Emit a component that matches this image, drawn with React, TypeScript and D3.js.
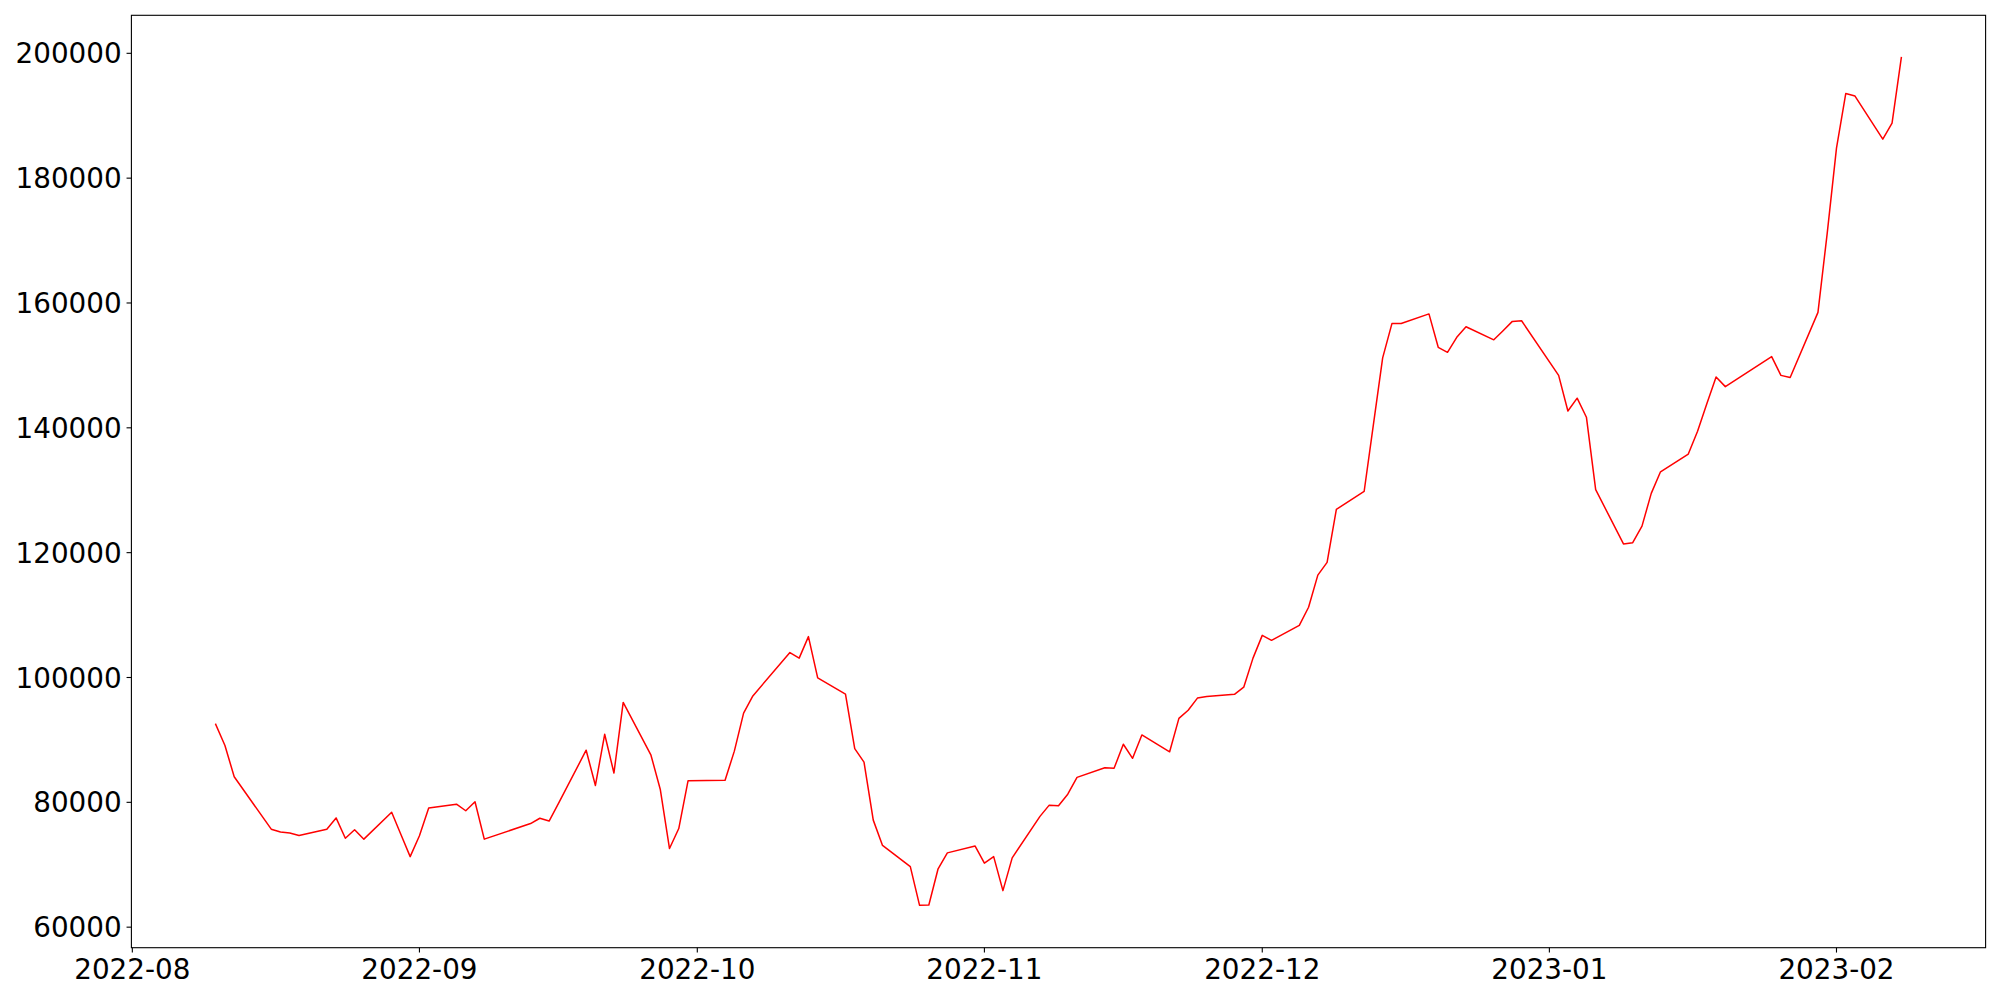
import React from "react";
import * as d3 from "d3";

const dates: string[] = [
  "2022-08-10","2022-08-11","2022-08-12","2022-08-16","2022-08-17","2022-08-18","2022-08-19",
  "2022-08-22","2022-08-23","2022-08-24","2022-08-25","2022-08-26","2022-08-29","2022-08-30","2022-08-31",
  "2022-09-01","2022-09-02","2022-09-05","2022-09-06","2022-09-07","2022-09-08","2022-09-13","2022-09-14",
  "2022-09-15","2022-09-16","2022-09-19","2022-09-20","2022-09-21","2022-09-22","2022-09-23","2022-09-26",
  "2022-09-27","2022-09-28","2022-09-29","2022-09-30","2022-10-04","2022-10-05","2022-10-06","2022-10-07",
  "2022-10-11","2022-10-12","2022-10-13","2022-10-14","2022-10-17","2022-10-18","2022-10-19","2022-10-20",
  "2022-10-21","2022-10-24","2022-10-25","2022-10-26","2022-10-27","2022-10-28","2022-10-31",
  "2022-11-01","2022-11-02","2022-11-03","2022-11-04","2022-11-07","2022-11-08","2022-11-09","2022-11-10",
  "2022-11-11","2022-11-14","2022-11-15","2022-11-16","2022-11-17","2022-11-18","2022-11-21","2022-11-22",
  "2022-11-23","2022-11-24","2022-11-25","2022-11-28","2022-11-29","2022-11-30",
  "2022-12-01","2022-12-02","2022-12-05","2022-12-06","2022-12-07","2022-12-08","2022-12-09","2022-12-12",
  "2022-12-13","2022-12-14","2022-12-15","2022-12-16","2022-12-19","2022-12-20","2022-12-21","2022-12-22",
  "2022-12-23","2022-12-26","2022-12-27","2022-12-28","2022-12-29",
  "2023-01-02","2023-01-03","2023-01-04","2023-01-05","2023-01-06","2023-01-09","2023-01-10","2023-01-11",
  "2023-01-12","2023-01-13","2023-01-16","2023-01-17","2023-01-18","2023-01-19","2023-01-20","2023-01-25",
  "2023-01-26","2023-01-27","2023-01-30","2023-01-31",
  "2023-02-01","2023-02-02","2023-02-03","2023-02-06","2023-02-07","2023-02-08",
];

const values: number[] = [
  92500, 89100, 84100, 75700, 75250, 75100, 74700,
  75700, 77500, 74250, 75600, 74100, 78400, 74850, 71300,
  74650, 79100, 79700, 78650, 80100, 74100, 76600, 77450,
  77000, 79800, 88350, 82700, 90900, 84700, 96000, 87550,
  82100, 72600, 75800, 83450, 83550, 88200, 94300, 97050,
  104000, 103100, 106550, 99950, 97350, 88600, 86450, 77150,
  73100, 69700, 63500, 63550, 69350, 71900, 73000,
  70250, 71300, 65850, 71100, 77750, 79550, 79450, 81300,
  84000, 85550, 85450, 89300, 87050, 90800, 88100, 93450,
  94750, 96700, 96950, 97300, 98450, 103100,
  106750, 105950, 108350, 111250, 116400, 118450, 126950, 129800,
  140500, 151200, 156700, 156700, 158250, 152900, 152100, 154500,
  156200, 154100, 155550, 157050, 157150,
  148400, 142700, 144750, 141700, 130100, 121400, 121600, 124250,
  129500, 132950, 135800, 139450, 143850, 148150, 146600, 151400,
  148400, 148050, 158500, 171200,
  184800, 193550, 193150, 186250, 188800, 199300,
];

const yTicks: number[] = [60000, 80000, 100000, 120000, 140000, 160000, 180000, 200000];
const xTickLabels: string[] = ["2022-08", "2022-09", "2022-10", "2022-11", "2022-12", "2023-01", "2023-02"];

const W = 2000;
const H = 1000;
const M = { left: 131.4, right: 1985.6, top: 15.3, bottom: 947.7 };
const FONT = "'DejaVu Sans', sans-serif";
const FS = 27.8;

export default function App() {
  const parse = d3.utcParse("%Y-%m-%d");
  const parseMonth = d3.utcParse("%Y-%m");
  const data = dates.map((d, i) => ({ date: parse(d) as Date, value: values[i] }));

  const [x0, x1] = d3.extent(data, (d) => d.date) as [Date, Date];
  const span = x1.getTime() - x0.getTime();
  const x = d3
    .scaleUtc()
    .domain([new Date(x0.getTime() - span * 0.05), new Date(x1.getTime() + span * 0.05)])
    .range([M.left, M.right]);

  const [y0, y1] = d3.extent(data, (d) => d.value) as [number, number];
  const ys = y1 - y0;
  const y = d3.scaleLinear().domain([y0 - ys * 0.05, y1 + ys * 0.05]).range([M.bottom, M.top]);

  const line = d3
    .line<{ date: Date; value: number }>()
    .x((d) => x(d.date))
    .y((d) => y(d.value));

  const tickLen = 4.86;
  const pad = 4.86;

  return (
    <div style={{ position: "fixed", left: 0, top: 0, width: W, height: H, background: "#fff" }}>
      <svg width={W} height={H} viewBox={`0 0 ${W} ${H}`} style={{ display: "block" }}>
        <rect x={0} y={0} width={W} height={H} fill="#fff" />
        <path d={line(data) || ""} fill="none" stroke="#ff0000" strokeWidth={1.5} strokeLinejoin="round" strokeLinecap="square" />
        <rect
          x={M.left}
          y={M.top}
          width={M.right - M.left}
          height={M.bottom - M.top}
          fill="none"
          stroke="#000"
          strokeWidth={1.1}
        />
        {yTicks.map((t) => (
          <g key={"y" + t}>
            <line x1={M.left - tickLen} x2={M.left} y1={y(t)} y2={y(t)} stroke="#000" strokeWidth={1.1} />
            <text
              x={M.left - tickLen - pad}
              y={y(t)}
              dy="0.36em"
              textAnchor="end"
              fontFamily={FONT}
              fontSize={FS}
              fill="#000"
            >
              {String(t)}
            </text>
          </g>
        ))}
        {xTickLabels.map((lab) => {
          const px = x(parseMonth(lab) as Date);
          return (
            <g key={"x" + lab}>
              <line x1={px} x2={px} y1={M.bottom} y2={M.bottom + tickLen} stroke="#000" strokeWidth={1.1} />
              <text
                x={px}
                y={M.bottom + tickLen + pad + 0.76 * FS}
                textAnchor="middle"
                fontFamily={FONT}
                fontSize={FS}
                fill="#000"
              >
                {lab}
              </text>
            </g>
          );
        })}
      </svg>
    </div>
  );
}
